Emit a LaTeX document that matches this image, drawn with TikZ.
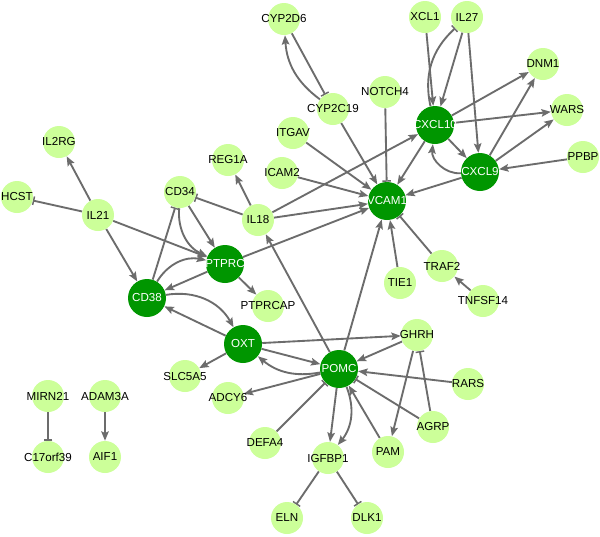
\documentclass[tikz,border=0pt]{standalone}
\usepackage{fontspec}
\setmainfont{Liberation Sans}
\usetikzlibrary{arrows.meta}
\definecolor{darkg}{RGB}{0,150,0}
\definecolor{lightg}{RGB}{204,255,153}
\definecolor{edgec}{RGB}{108,108,108}
\pgfdeclarelayer{bg}
\pgfsetlayers{bg,main}
\tikzset{
  lnode/.style={circle,fill=lightg,draw=none,minimum size=24pt,inner sep=0pt},
  dnode/.style={circle,fill=darkg,draw=none,minimum size=28.5pt,inner sep=0pt},
  ltxt/.style={font=\fontsize{8.7}{9}\selectfont,text=black,inner sep=0pt},
  dtxt/.style={font=\fontsize{8.7}{9}\selectfont,text=white,inner sep=0pt},
  act/.style={draw=edgec,line width=1.4pt,-{Stealth[length=7pt,width=5.6pt,inset=1.2pt]}},
  inh/.style={draw=edgec,line width=1.4pt,-{Bar[width=6.5pt,line width=1.1pt]}},
}
\newcommand{\LN}[3]{\node[lnode,label={[ltxt]center:#3}] (#1) at (#2) {};}
\newcommand{\DN}[3]{\node[dnode,label={[dtxt]center:#3}] (#1) at (#2) {};}
\begin{document}
\begin{tikzpicture}[x=0.75pt,y=-0.75pt]
\useasboundingbox (0,0) rectangle (600,536);
% light nodes
\LN{CYP2D6}{284,19}{CYP2D6}
\LN{XCL1}{425,17}{XCL1}
\LN{IL27}{467,17}{IL27}
\LN{DNM1}{543,64}{DNM1}
\LN{NOTCH4}{385,92}{NOTCH4}
\LN{CYP2C19}{333,109}{CYP2C19}
\LN{WARS}{567,110}{WARS}
\LN{ITGAV}{293,133}{ITGAV}
\LN{PPBP}{583,157}{PPBP}
\LN{ICAM2}{282,173}{ICAM2}
\LN{REG1A}{228,160}{REG1A}
\LN{IL2RG}{59,142}{IL2RG}
\LN{CD34}{180,192}{CD34}
\LN{HCST}{17,197}{HCST}
\LN{IL21}{98,215}{IL21}
\LN{IL18}{258,220}{IL18}
\LN{PTPRCAP}{268,306}{PTPRCAP}
\LN{TRAF2}{442,266}{TRAF2}
\LN{TIE1}{400,283}{TIE1}
\LN{TNFSF14}{483,301}{TNFSF14}
\LN{GHRH}{417,335}{GHRH}
\LN{SLC5A5}{185,376}{SLC5A5}
\LN{RARS}{468,384}{RARS}
\LN{ADCY6}{228,398}{ADCY6}
\LN{AGRP}{433,427}{AGRP}
\LN{DEFA4}{265,443}{DEFA4}
\LN{PAM}{388,452}{PAM}
\LN{IGFBP1}{328,458}{IGFBP1}
\LN{ELN}{287,518}{ELN}
\LN{DLK1}{367,518}{DLK1}
\LN{MIRN21}{48,396}{MIRN21}
\LN{ADAM3A}{105,396}{ADAM3A}
\LN{C17orf39}{48,457}{C17orf39}
\LN{AIF1}{105,457}{AIF1}
% dark nodes
\DN{CXCL10}{435,125}{CXCL10}
\DN{CXCL9}{480,172}{CXCL9}
\DN{VCAM1}{387,201}{VCAM1}
\DN{PTPRC}{225,264}{PTPRC}
\DN{CD38}{147,298}{CD38}
\DN{OXT}{243,344}{OXT}
\DN{POMC}{339,369}{POMC}
% edges
\begin{pgfonlayer}{bg}
\fill[white] (0,0) rectangle (600,536);
\draw[act] (CYP2C19) to[bend left=25] (CYP2D6);
\draw[inh] (CYP2D6) -- (CYP2C19);
\draw[act] (CYP2C19) -- (VCAM1);
\draw[inh] (NOTCH4) -- (VCAM1);
\draw[act] (ITGAV) -- (VCAM1);
\draw[act] (ICAM2) -- (VCAM1);
\draw[act] (XCL1) -- (CXCL10);
\draw[act] (IL27) -- (CXCL10);
\draw[inh] (CXCL10) to[bend left=30] (IL27);
\draw[act] (IL27) -- (CXCL9);
\draw[act] (CXCL10) -- (DNM1);
\draw[act] (CXCL10) -- (WARS);
\draw[act] (CXCL10) -- (CXCL9);
\draw[act] (CXCL9) to[bend left=50] (CXCL10);
\draw[act] (CXCL9) -- (DNM1);
\draw[act] (CXCL9) -- (WARS);
\draw[act] (PPBP) -- (CXCL9);
\draw[act] (CXCL9) -- (VCAM1);
\draw[act] (CXCL10) -- (VCAM1);
\draw[act] (IL18) -- (CXCL10);
\draw[act] (IL18) -- (REG1A);
\draw[inh] (IL18) -- (CD34);
\draw[act] (IL18) -- (VCAM1);
\draw[act] (POMC) -- (IL18);
\draw[act] (POMC) -- (VCAM1);
\draw[act] (TIE1) -- (VCAM1);
\draw[inh] (TRAF2) -- (VCAM1);
\draw[act] (TNFSF14) -- (TRAF2);
\draw[act] (PTPRC) -- (VCAM1);
\draw[act] (PTPRC) -- (PTPRCAP);
\draw[act] (CD34) -- (PTPRC);
\draw[act] (CD34) to[bend right=35] (PTPRC);
\draw[inh] (CD38) -- (CD34);
\draw[act] (CD38) to[bend left=35] (PTPRC);
\draw[act] (PTPRC) -- (CD38);
\draw[act] (IL21) -- (IL2RG);
\draw[inh] (IL21) -- (HCST);
\draw[act] (IL21) -- (CD38);
\draw[act] (IL21) -- (PTPRC);
\draw[act] (CD38) to[bend left=35] (OXT);
\draw[act] (OXT) -- (CD38);
\draw[act] (OXT) -- (SLC5A5);
\draw[act] (OXT) -- (GHRH);
\draw[act] (OXT) -- (POMC);
\draw[act] (POMC) to[bend left=25] (OXT);
\draw[act] (POMC) -- (ADCY6);
\draw[inh] (DEFA4) -- (POMC);
\draw[act] (POMC) -- (IGFBP1);
\draw[act] (POMC) to[bend left=30] (IGFBP1);
\draw[act] (PAM) -- (POMC);
\draw[inh] (AGRP) -- (POMC);
\draw[act] (RARS) -- (POMC);
\draw[act] (GHRH) -- (POMC);
\draw[act] (GHRH) -- (PAM);
\draw[inh] (AGRP) -- (GHRH);
\draw[inh] (IGFBP1) -- (ELN);
\draw[inh] (IGFBP1) -- (DLK1);
\draw[inh] (MIRN21) -- (C17orf39);
\draw[act] (ADAM3A) -- (AIF1);
\end{pgfonlayer}
\end{tikzpicture}
\end{document}
